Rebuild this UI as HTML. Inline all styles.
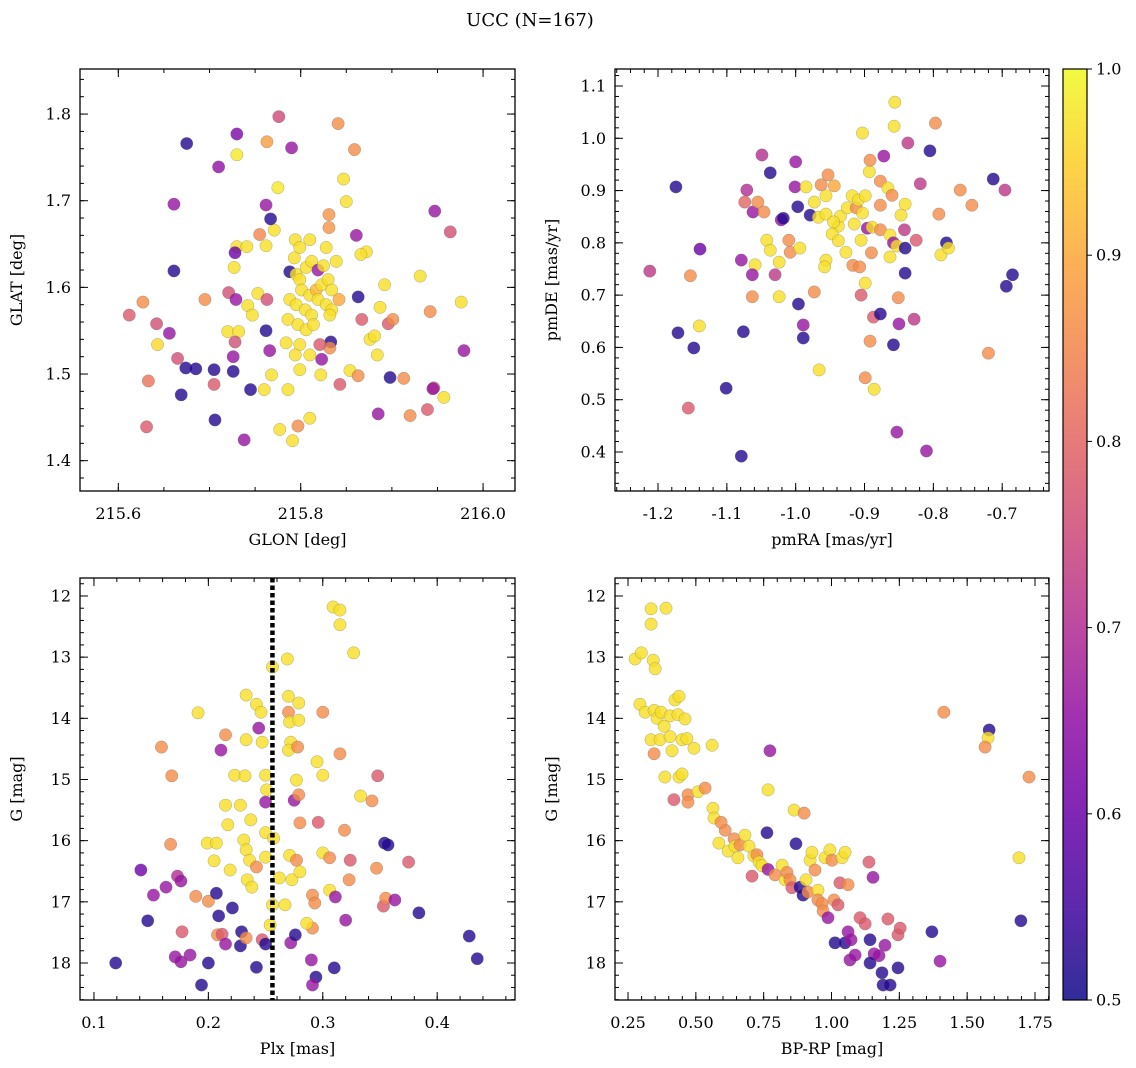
<!DOCTYPE html>
<html><head><meta charset="utf-8"><style>
body{margin:0;background:#fff}
svg{display:block;font-family:"DejaVu Serif","Liberation Serif",serif}
</style></head><body>
<svg id="fig" width="1136" height="1068" viewBox="0 0 1136 1068">
<text x="530" y="26" font-size="18" text-anchor="middle">UCC (N=167)</text>
<defs><linearGradient id="cbg" x1="0" y1="1" x2="0" y2="0">
<stop offset="0" stop-color="#0d0887"/><stop offset="0.1" stop-color="#41049d"/><stop offset="0.2" stop-color="#6a00a8"/><stop offset="0.3" stop-color="#8f0da4"/><stop offset="0.4" stop-color="#b12a90"/><stop offset="0.5" stop-color="#cc4778"/><stop offset="0.6" stop-color="#e16462"/><stop offset="0.7" stop-color="#f2844b"/><stop offset="0.8" stop-color="#fca636"/><stop offset="0.9" stop-color="#fcce25"/><stop offset="1" stop-color="#f0f921"/></linearGradient></defs>
</svg>
<script>
// ---- Panel 1: GLON / GLAT ----
const glon=[215.675,215.730,215.776,215.841,215.763,215.730,215.710,215.790,215.859,215.661,215.775,215.847,215.850,215.762,215.771,215.767,215.947,215.964,215.831,215.831,215.861,215.755,215.794,215.730,215.741,215.762,215.728,215.661,215.627,215.612,215.642,215.656,215.643,215.665,215.674,215.669,215.685,215.705,215.705,215.706,215.738,215.633,215.631,215.695,215.721,215.727,215.729,215.753,215.763,215.720,215.732,215.728,215.742,215.747,215.726,215.726,215.745,215.760,215.766,215.762,215.768,215.777,215.791,215.797,215.810,215.786,215.799,215.822,215.823,215.833,215.832,215.843,215.854,215.863,215.867,215.876,215.887,215.892,215.872,215.866,215.863,215.931,215.942,215.976,215.979,215.946,215.939,215.945,215.957,215.920,215.913,215.898,215.885,215.884,215.896,215.901,215.881,215.788,215.795,215.799,215.806,215.812,215.819,215.825,215.801,215.810,215.817,215.823,215.830,215.788,215.795,215.805,215.812,215.819,215.828,215.834,215.786,215.797,215.806,215.814,215.799,215.810,215.821,215.784,215.794,215.839,215.834,215.842,215.832,215.810,215.799,215.793,215.828];
const glat=[1.766,1.777,1.797,1.789,1.768,1.753,1.739,1.761,1.759,1.696,1.715,1.725,1.699,1.695,1.666,1.679,1.688,1.664,1.684,1.669,1.660,1.661,1.655,1.647,1.647,1.648,1.640,1.619,1.583,1.568,1.558,1.547,1.534,1.518,1.507,1.476,1.506,1.505,1.488,1.447,1.424,1.492,1.439,1.586,1.594,1.623,1.586,1.593,1.586,1.549,1.549,1.537,1.579,1.568,1.520,1.503,1.482,1.482,1.527,1.550,1.499,1.436,1.423,1.440,1.449,1.482,1.505,1.499,1.517,1.537,1.530,1.488,1.504,1.498,1.563,1.540,1.577,1.603,1.641,1.638,1.589,1.613,1.572,1.583,1.527,1.484,1.459,1.483,1.473,1.452,1.495,1.496,1.454,1.522,1.558,1.563,1.544,1.618,1.615,1.609,1.623,1.630,1.620,1.625,1.597,1.591,1.597,1.603,1.609,1.586,1.580,1.574,1.568,1.586,1.580,1.574,1.563,1.557,1.551,1.557,1.534,1.522,1.534,1.536,1.522,1.630,1.597,1.586,1.568,1.655,1.646,1.634,1.646];
const prob1=[.52,.62,.75,.86,.88,.98,.65,.66,.86,.66,.98,.97,.97,.66,.97,.52,.66,.76,.87,.87,.66,.85,.97,.97,.97,.97,.6,.52,.86,.78,.76,.66,.96,.76,.52,.52,.52,.52,.78,.52,.66,.82,.78,.86,.76,.97,.66,.97,.76,.97,.97,.76,.97,.97,.66,.52,.52,.97,.66,.52,.97,.97,.97,.86,.97,.97,.97,.97,.66,.52,.86,.78,.97,.86,.78,.97,.97,.97,.97,.97,.52,.97,.86,.97,.66,.78,.78,.66,.97,.86,.86,.52,.66,.97,.78,.86,.97,.52,.97,.97,.97,.97,.66,.97,.97,.97,.92,.97,.97,.97,.97,.97,.97,.97,.97,.97,.97,.97,.97,.97,.97,.97,.78,.97,.97,.97,.97,.9,.97,.97,.97,.97,.97];
// ---- Panel 2: pmRA / pmDE ----
const pmra=[-1.174,-1.212,-1.171,-1.148,-1.156,-1.153,-1.140,-1.139,-1.101,-1.079,-1.076,-1.079,-1.049,-1.037,-1.071,-1.074,-1.062,-1.055,-1.046,-1.059,-1.063,-1.063,-1.042,-1.037,-1.024,-1.024,-1.030,-1.021,-1.018,-1.008,-1.010,-0.996,-1.001,-1.000,-0.997,-0.994,-0.989,-0.989,-0.973,-0.966,-0.979,-0.985,-0.973,-0.963,-0.967,-0.953,-0.944,-0.956,-0.956,-0.938,-0.947,-0.938,-0.935,-0.925,-0.918,-0.912,-0.909,-0.903,-0.899,-0.915,-0.927,-0.956,-0.958,-0.945,-0.917,-0.905,-0.896,-0.905,-0.907,-0.899,-0.890,-0.889,-0.887,-0.892,-0.899,-0.886,-0.893,-0.903,-0.892,-0.872,-0.877,-0.877,-0.877,-0.866,-0.863,-0.863,-0.860,-0.841,-0.858,-0.853,-0.847,-0.856,-0.857,-0.837,-0.841,-0.842,-0.841,-0.877,-0.858,-0.850,-0.851,-0.853,-0.819,-0.825,-0.805,-0.797,-0.792,-0.781,-0.789,-0.778,-0.828,-0.810,-0.761,-0.744,-0.713,-0.696,-0.685,-0.694,-0.720];
const pmde=[0.907,0.746,0.628,0.599,0.484,0.737,0.641,0.788,0.522,0.767,0.630,0.392,0.968,0.934,0.901,0.878,0.859,0.878,0.859,0.758,0.697,0.739,0.805,0.786,0.763,0.697,0.739,0.844,0.847,0.782,0.805,0.683,0.907,0.955,0.869,0.790,0.643,0.618,0.706,0.557,0.853,0.907,0.878,0.911,0.849,0.930,0.909,0.890,0.855,0.832,0.817,0.804,0.851,0.867,0.890,0.867,0.882,0.857,0.890,0.836,0.782,0.767,0.754,0.840,0.757,0.805,0.828,0.700,0.754,0.723,0.781,0.830,0.658,0.612,0.542,0.520,0.936,1.010,0.958,0.966,0.918,0.825,0.872,0.905,0.815,0.773,0.891,0.874,0.800,0.794,0.853,1.069,1.023,0.991,0.790,0.825,0.742,0.664,0.605,0.645,0.695,0.438,0.913,0.805,0.976,1.029,0.855,0.800,0.777,0.790,0.654,0.402,0.901,0.872,0.922,0.901,0.739,0.717,0.589];
const prob2=[.52,.72,.52,.52,.78,.86,.97,.6,.52,.66,.52,.52,.7,.52,.7,.8,.66,.86,.86,.97,.86,.66,.97,.97,.97,.97,.72,.66,.52,.86,.86,.52,.66,.66,.52,.97,.66,.52,.86,.97,.52,.97,.97,.86,.97,.86,.9,.97,.97,.97,.97,.97,.97,.97,.97,.86,.97,.97,.97,.97,.97,.97,.97,.97,.86,.97,.66,.78,.86,.97,.86,.97,.78,.86,.86,.97,.97,.97,.86,.66,.86,.86,.86,.97,.97,.97,.86,.97,.66,.97,.97,.97,.97,.72,.52,.72,.52,.52,.52,.66,.86,.66,.72,.78,.52,.86,.86,.52,.97,.97,.72,.66,.86,.86,.52,.72,.52,.52,.86];
// ---- Panel 3: Plx / G ----
const plx=[0.191,0.159,0.168,0.167,0.141,0.152,0.163,0.173,0.176,0.147,0.119,0.171,0.176,0.177,0.184,0.194,0.200,0.189,0.200,0.199,0.207,0.205,0.209,0.208,0.212,0.207,0.211,0.215,0.217,0.215,0.219,0.221,0.215,0.228,0.229,0.233,0.223,0.232,0.228,0.237,0.231,0.233,0.236,0.234,0.238,0.242,0.233,0.233,0.242,0.244,0.247,0.246,0.242,0.247,0.250,0.250,0.250,0.250,0.250,0.251,0.256,0.256,0.254,0.257,0.262,0.267,0.269,0.270,0.270,0.272,0.270,0.271,0.279,0.278,0.279,0.277,0.275,0.279,0.280,0.271,0.277,0.273,0.280,0.272,0.276,0.291,0.291,0.293,0.286,0.290,0.294,0.291,0.295,0.300,0.300,0.296,0.300,0.306,0.306,0.311,0.310,0.309,0.315,0.315,0.327,0.315,0.319,0.324,0.323,0.320,0.333,0.343,0.348,0.354,0.347,0.357,0.353,0.355,0.363,0.375,0.384,0.428,0.435];
const gmag3=[13.91,14.47,14.94,16.06,16.48,16.89,16.76,16.58,16.66,17.31,18.00,17.90,17.98,17.49,17.87,18.36,18.00,16.91,16.99,16.04,16.04,16.33,17.23,17.54,17.53,16.86,14.52,14.27,15.74,15.42,16.48,17.10,17.69,17.72,17.49,17.59,14.93,14.94,15.42,15.66,15.99,16.15,16.32,16.64,16.76,16.43,13.62,14.35,13.77,14.16,14.39,13.90,18.07,17.62,17.69,15.37,14.93,15.87,16.27,15.17,13.16,17.05,17.38,15.96,16.61,17.05,13.03,13.64,13.90,14.39,14.52,14.06,14.03,14.47,13.75,15.01,15.34,15.25,15.71,16.24,16.32,16.64,16.51,17.67,17.54,16.89,17.43,17.02,17.35,17.95,18.23,18.36,14.71,13.90,14.93,15.70,16.20,16.28,16.81,16.92,18.08,12.18,12.23,12.47,12.93,14.58,15.83,16.32,16.64,17.30,15.27,15.35,14.94,16.04,16.45,16.07,17.07,16.94,16.97,16.35,17.18,17.56,17.93];
const prob3=[.97,.86,.86,.86,.6,.66,.66,.7,.66,.52,.52,.66,.66,.78,.66,.52,.52,.86,.86,.97,.97,.97,.52,.86,.78,.52,.66,.86,.97,.97,.97,.52,.66,.52,.52,.86,.97,.97,.97,.97,.97,.97,.97,.97,.97,.86,.97,.97,.97,.66,.97,.97,.52,.78,.52,.66,.97,.97,.97,.97,.97,.97,.97,.97,.97,.97,.97,.97,.86,.97,.97,.97,.97,.86,.97,.97,.66,.86,.86,.97,.86,.97,.97,.66,.52,.86,.86,.86,.97,.66,.52,.66,.97,.86,.97,.78,.97,.86,.97,.66,.52,.97,.97,.97,.97,.86,.86,.78,.86,.66,.97,.86,.78,.52,.86,.52,.78,.86,.66,.78,.52,.52,.52];
// ---- Panel 4: BP-RP / G ----
const bprp=[0.276,0.299,0.335,0.335,0.343,0.350,0.390,0.294,0.313,0.346,0.357,0.335,0.372,0.346,0.368,0.383,0.405,0.405,0.423,0.434,0.449,0.386,0.412,0.438,0.460,0.467,0.419,0.438,0.449,0.471,0.471,0.493,0.508,0.534,0.560,0.563,0.567,0.585,0.608,0.593,0.619,0.641,0.644,0.663,0.655,0.681,0.696,0.707,0.714,0.725,0.733,0.744,0.762,0.766,0.766,0.773,0.792,0.818,0.829,0.836,0.847,0.854,0.862,0.869,0.884,0.899,0.895,0.913,0.906,0.921,0.928,0.939,0.950,0.950,0.965,0.976,0.994,1.002,0.969,1.009,1.024,1.031,0.987,1.039,1.050,1.061,1.013,1.050,1.061,1.072,1.068,1.087,1.105,1.124,1.138,1.153,1.142,1.157,1.142,1.175,1.186,1.190,1.197,1.216,1.208,1.245,1.245,1.253,1.370,1.400,1.414,1.581,1.577,1.566,1.728,1.691,1.698];
const gmag4=[13.03,12.93,12.46,12.21,13.05,13.19,12.20,13.77,13.90,13.87,14.00,14.35,13.90,14.58,14.35,14.13,13.96,14.30,13.70,13.94,14.35,14.96,14.53,13.64,14.01,14.33,15.33,14.96,14.91,15.25,15.37,14.49,15.20,15.14,14.44,15.47,15.63,16.04,15.83,15.70,16.17,15.97,16.09,16.07,16.28,15.91,16.09,16.58,16.25,16.23,16.35,16.41,15.87,15.17,16.47,14.53,16.56,16.40,16.64,16.52,16.64,16.77,15.50,16.05,16.76,15.55,16.89,16.84,16.64,16.32,16.19,16.48,16.81,16.97,17.03,16.28,16.15,16.32,17.15,16.97,17.05,16.69,17.26,16.28,16.19,16.72,17.67,17.67,17.49,17.62,17.95,17.87,17.26,17.36,16.35,16.60,17.62,17.85,18.00,17.88,18.16,18.36,17.71,18.36,17.28,18.08,17.54,17.43,17.49,17.97,13.90,14.19,14.32,14.47,14.96,16.28,17.31];
const prob4=[.97,.97,.97,.97,.97,.97,.97,.97,.97,.97,.97,.97,.97,.86,.97,.97,.97,.97,.97,.97,.97,.97,.97,.97,.97,.97,.78,.97,.97,.86,.86,.97,.97,.86,.97,.97,.97,.97,.86,.86,.97,.86,.97,.86,.97,.97,.97,.78,.97,.86,.97,.97,.52,.97,.66,.66,.86,.97,.97,.86,.86,.78,.97,.52,.52,.86,.52,.86,.97,.97,.97,.86,.97,.86,.86,.97,.97,.86,.86,.86,.78,.78,.66,.97,.97,.86,.52,.52,.66,.66,.66,.66,.78,.78,.78,.66,.52,.66,.52,.66,.52,.52,.66,.52,.78,.52,.78,.78,.52,.66,.86,.52,.97,.86,.86,.97,.52];
const cbTicks=[0.5,0.6,0.7,0.8,0.9,1.0];
const plxLine=0.256;

const NS='http://www.w3.org/2000/svg';
const svg=document.getElementById('fig');
const stops=['#0d0887','#41049d','#6a00a8','#8f0da4','#b12a90','#cc4778','#e16462','#f2844b','#fca636','#fcce25','#f0f921'];
function hex(h){return [1,3,5].map(i=>parseInt(h.substr(i,2),16));}
function cmap(p){let t=Math.max(0,Math.min(1,(p-0.5)/0.5))*10;let i=Math.min(9,Math.floor(t));let f=t-i;let a=hex(stops[i]),b=hex(stops[i+1]);return 'rgb('+a.map((v,k)=>Math.round(v+(b[k]-v)*f)).join(',')+')';}
function el(tag,attrs,parent){const e=document.createElementNS(NS,tag);for(const k in attrs)e.setAttribute(k,attrs[k]);(parent||svg).appendChild(e);return e;}
function fmt(v,d){return v.toFixed(d);}
function panel(cfg){
  const g=el('g',{});
  
  
  const {x0,y0,w,h}=cfg;
  const sx=v=>x0+(v-cfg.xmin)/(cfg.xmax-cfg.xmin)*w;
  const sy=v=>cfg.yinv? y0+(v-cfg.ymin)/(cfg.ymax-cfg.ymin)*h : y0+h-(v-cfg.ymin)/(cfg.ymax-cfg.ymin)*h;
  const clip='clip-'+cfg.name;
  const cp=el('clipPath',{id:clip},g);el('rect',{x:x0,y:y0,width:w,height:h},cp);
  const pts=el('g',{'clip-path':'url(#'+clip+')'},g);
  
  
  cfg.xs.forEach((xv,i)=>{
    const c=el('circle',{cx:sx(xv),cy:sy(cfg.ys[i]),r:6.2,fill:cmap(cfg.ps[i]),'fill-opacity':0.8,stroke:'#666','stroke-opacity':0.5,'stroke-width':0.5},pts);
    
    
  });
  if(cfg.vline!==undefined){
    const l=el('line',{x1:sx(cfg.vline),x2:sx(cfg.vline),y1:y0,y2:y0+h,stroke:'#000','stroke-width':4.5,'stroke-dasharray':'4.5,3'},g);
    
    
  }
  el('rect',{x:x0,y:y0,width:w,height:h,fill:'none',stroke:'#000','stroke-width':1.3},g);
  const tk=el('g',{stroke:'#000','stroke-width':1},g);
  const eps=1e-9;
  for(let v=Math.ceil(cfg.xmin/cfg.xminor-eps)*cfg.xminor;v<=cfg.xmax+eps;v+=cfg.xminor){const X=sx(v);el('line',{x1:X,x2:X,y1:y0+h,y2:y0+h-4},tk);el('line',{x1:X,x2:X,y1:y0,y2:y0+4},tk);}
  for(let v=Math.ceil(cfg.ymin/cfg.yminor-eps)*cfg.yminor;v<=cfg.ymax+eps;v+=cfg.yminor){const Y=sy(v);el('line',{x1:x0,x2:x0+4,y1:Y,y2:Y},tk);el('line',{x1:x0+w,x2:x0+w-4,y1:Y,y2:Y},tk);}
  cfg.xt.forEach(v=>{const X=sx(v);el('line',{x1:X,x2:X,y1:y0+h,y2:y0+h-8},tk);el('line',{x1:X,x2:X,y1:y0,y2:y0+8},tk);
    const t=el('text',{x:X,y:y0+h+28,'font-size':16,'text-anchor':'middle'},g);t.textContent=fmt(v,cfg.xd);
    });
  cfg.yt.forEach(v=>{const Y=sy(v);el('line',{x1:x0,x2:x0+8,y1:Y,y2:Y},tk);el('line',{x1:x0+w,x2:x0+w-8,y1:Y,y2:Y},tk);
    const t=el('text',{x:x0-9,y:Y+5.5,'font-size':16,'text-anchor':'end'},g);t.textContent=fmt(v,cfg.yd);
    });
  const xl=el('text',{x:x0+w/2,y:y0+h+54,'font-size':16,'text-anchor':'middle'},g);xl.textContent=cfg.xlabel;
  
  const yx=x0-58,yy=y0+h/2;
  const yl=el('text',{x:yx,y:yy,'font-size':16,'text-anchor':'middle',transform:'rotate(-90 '+yx+' '+yy+')'},g);yl.textContent=cfg.ylabel;
  
}
panel({name:'glon-glat-panel',x0:80,y0:69,w:435,h:422,xmin:215.558,xmax:216.035,ymin:1.365,ymax:1.852,xs:glon,ys:glat,ps:prob1,xt:[215.6,215.8,216.0],xd:1,xminor:0.05,yt:[1.4,1.5,1.6,1.7,1.8],yd:1,yminor:0.02,xlabel:'GLON [deg]',ylabel:'GLAT [deg]'});
panel({name:'pm-panel',x0:615,y0:69,w:434,h:422,xmin:-1.2625,xmax:-0.632,ymin:0.3254,ymax:1.1325,xs:pmra,ys:pmde,ps:prob2,xt:[-1.2,-1.1,-1.0,-0.9,-0.8,-0.7],xd:1,xminor:0.02,yt:[0.4,0.5,0.6,0.7,0.8,0.9,1.0,1.1],yd:1,yminor:0.02,xlabel:'pmRA [mas/yr]',ylabel:'pmDE [mas/yr]'});
panel({name:'plx-g-panel',x0:80,y0:578,w:435,h:422,xmin:0.0878,xmax:0.468,ymin:11.706,ymax:18.605,yinv:true,xs:plx,ys:gmag3,ps:prob3,xt:[0.1,0.2,0.3,0.4],xd:1,xminor:0.02,yt:[12,13,14,15,16,17,18],yd:0,yminor:0.2,xlabel:'Plx [mas]',ylabel:'G [mag]',vline:plxLine});
panel({name:'cmd-panel',x0:615,y0:578,w:434,h:422,xmin:0.202,xmax:1.8016,ymin:11.706,ymax:18.605,yinv:true,xs:bprp,ys:gmag4,ps:prob4,xt:[0.25,0.5,0.75,1.0,1.25,1.5,1.75],xd:2,xminor:0.05,yt:[12,13,14,15,16,17,18],yd:0,yminor:0.2,xlabel:'BP-RP [mag]',ylabel:'G [mag]'});
// colorbar
const cb=el('g',{});


el('rect',{x:1063,y:69,width:24,height:931,fill:'url(#cbg)','fill-opacity':0.85,stroke:'#000','stroke-width':1.2},cb);
cbTicks.forEach(v=>{const Y=1000-(v-0.5)/0.5*931;el('line',{x1:1087,x2:1092,y1:Y,y2:Y,stroke:'#000'},cb);
  const t=el('text',{x:1096,y:Y+5.5,'font-size':16},cb);t.textContent=v.toFixed(1);
  });
</script>
</body></html>
